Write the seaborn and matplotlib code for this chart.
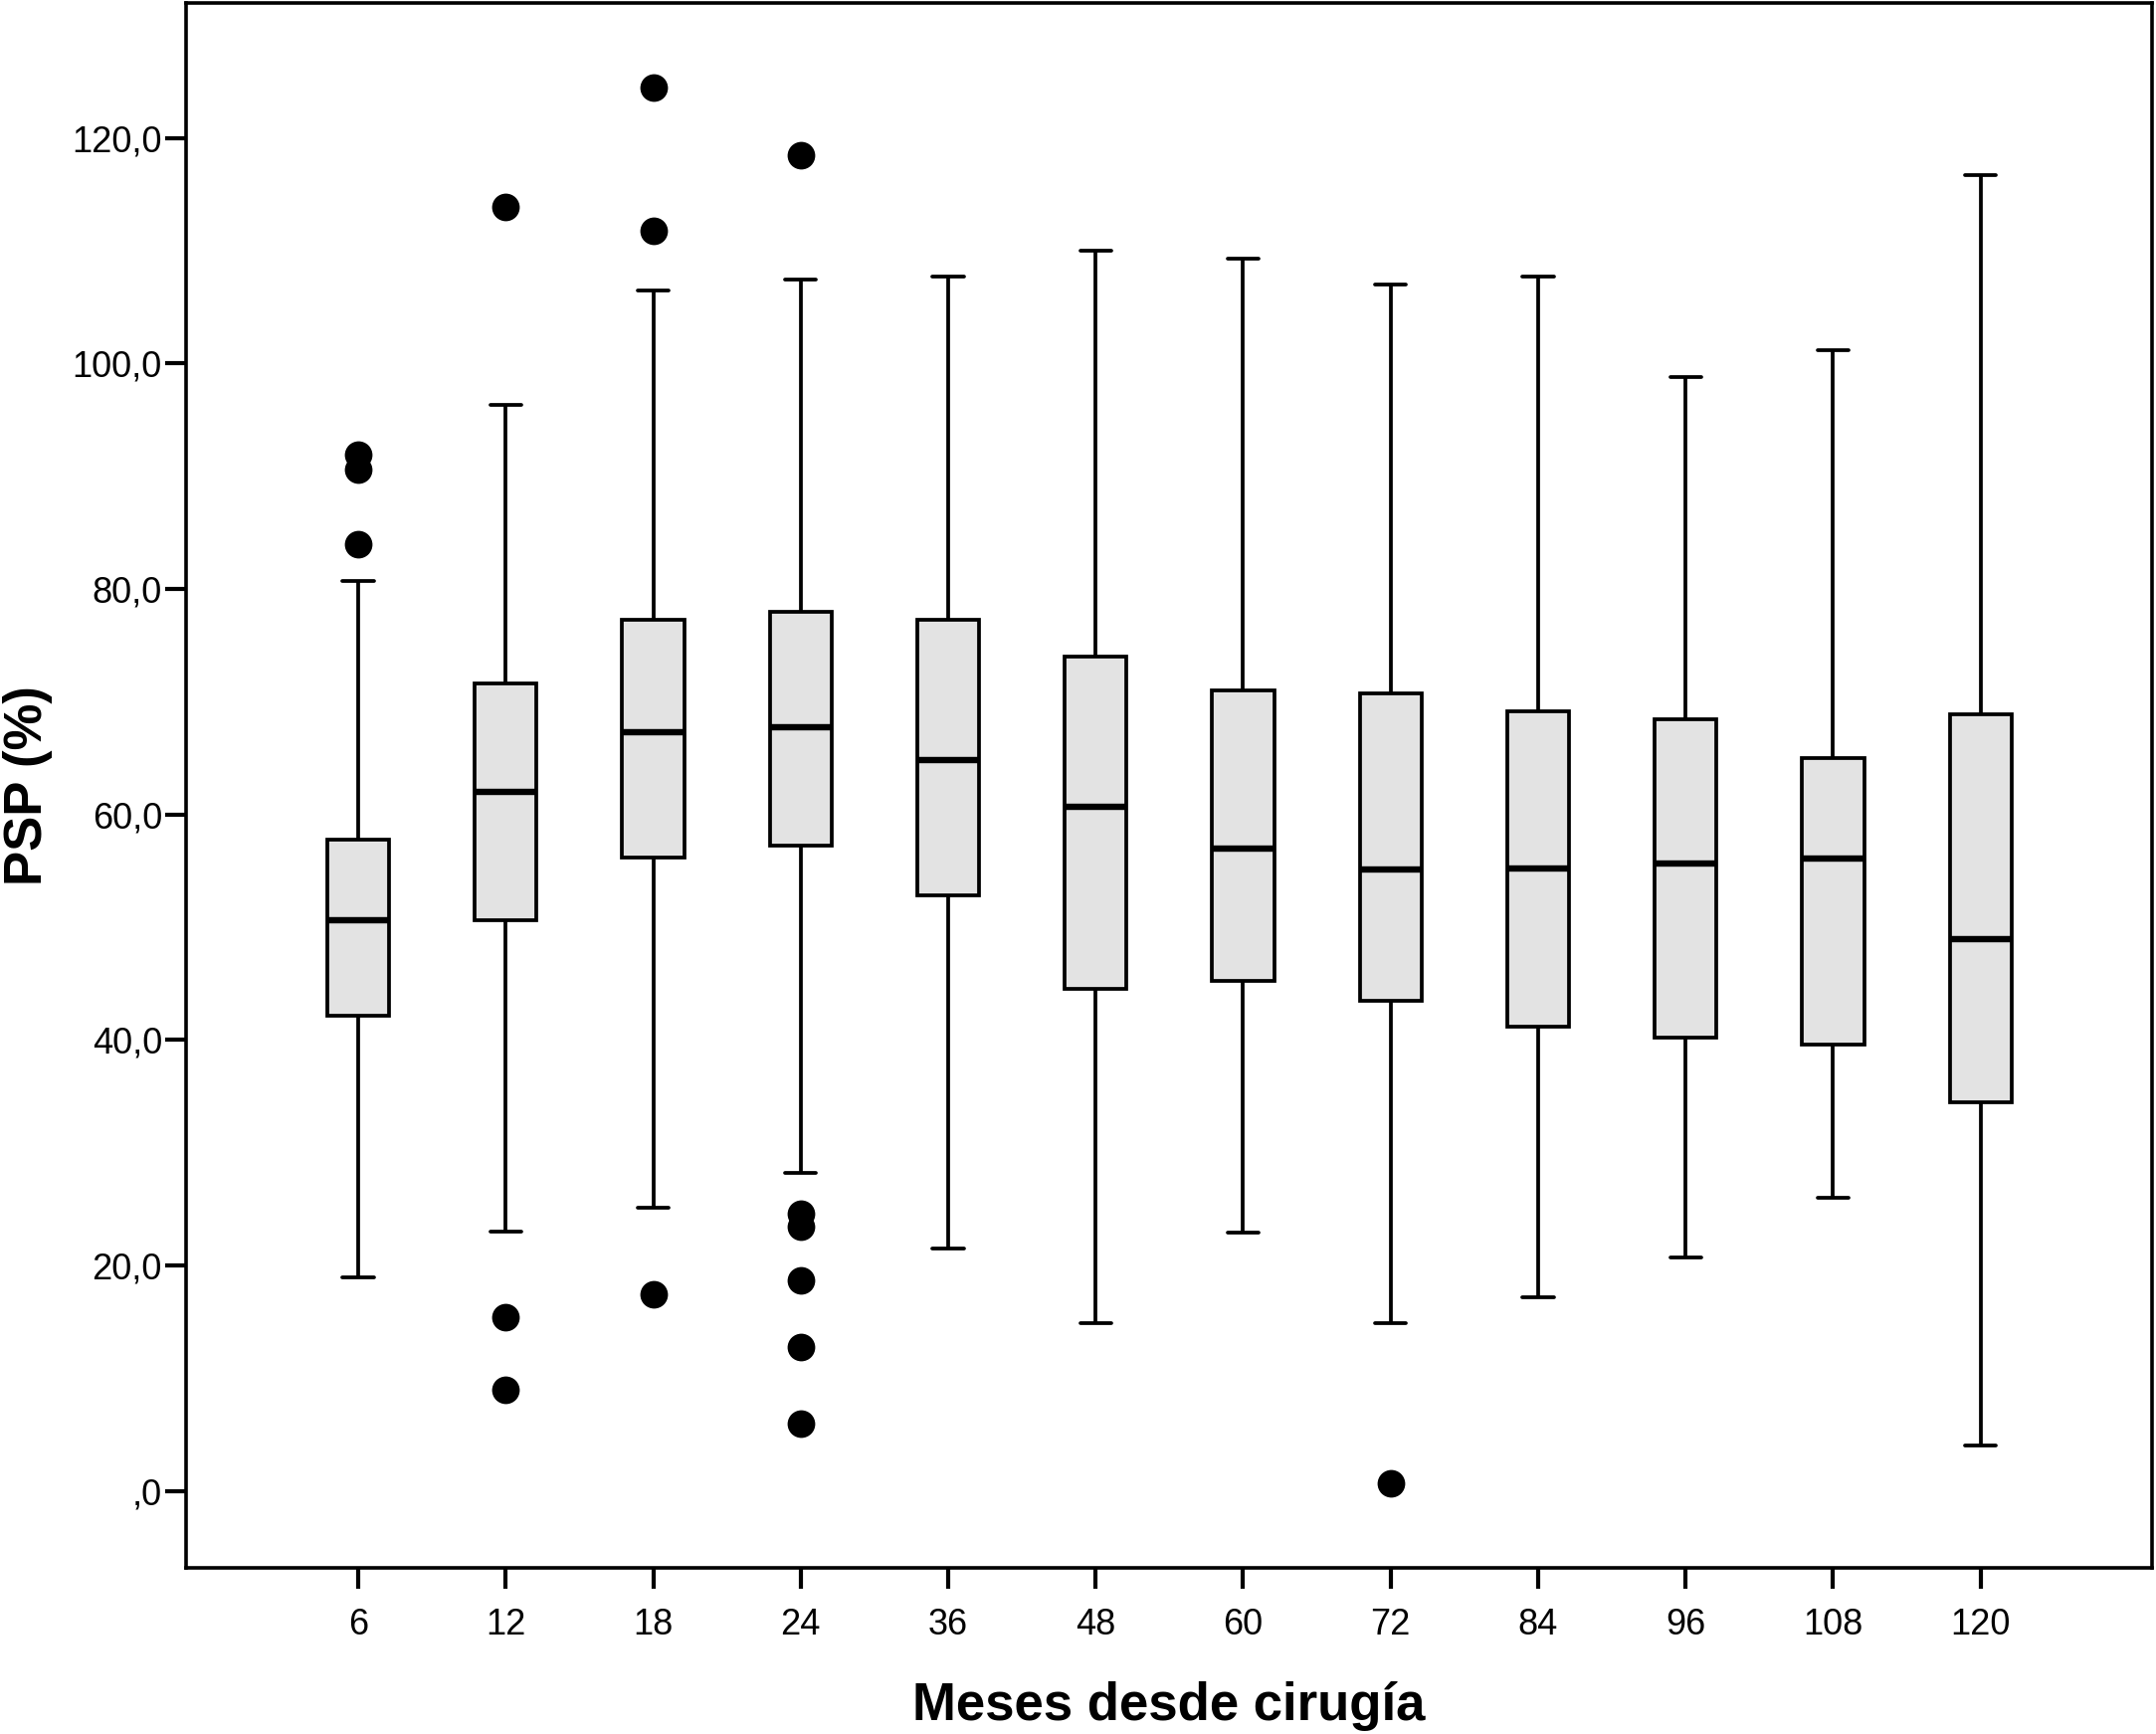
import numpy as np
import pandas as pd
import matplotlib
matplotlib.use("Agg")
import matplotlib.pyplot as plt
import seaborn as sns

# ---- data ----
months = ["6", "12", "18", "24", "36", "48", "60", "72", "84", "96", "108", "120"]
whisk_lo = [18.9, 23.0, 25.1, 28.2, 21.5, 14.9, 22.9, 14.9, 17.2, 20.7, 26.0, 4.0]
q1       = [42.1, 50.6, 56.2, 57.2, 52.8, 44.5, 45.2, 43.5, 41.2, 40.2, 39.6, 34.5]
median   = [50.6, 62.0, 67.3, 67.7, 64.8, 60.7, 57.0, 55.1, 55.2, 55.6, 56.1, 48.9]
q3       = [57.8, 71.6, 77.3, 78.0, 77.3, 74.0, 71.0, 70.7, 69.1, 68.4, 65.0, 68.9]
whisk_hi = [80.7, 96.3, 106.5, 107.4, 107.7, 110.0, 109.3, 107.0, 107.7, 98.8, 101.2, 116.7]

outlier_month = ["6", "6", "6", "12", "12", "12", "18", "18", "18",
                 "24", "24", "24", "24", "24", "24", "72"]
outlier_value = [91.9, 90.6, 84.0, 113.9, 15.4, 9.0, 124.5, 111.8, 17.4,
                 118.5, 24.6, 23.4, 18.7, 12.8, 6.0, 0.7]

yticks = [0, 20, 40, 60, 80, 100, 120]
ytick_labels = [",0", "20,0", "40,0", "60,0", "80,0", "100,0", "120,0"]

# five-number summaries per month -> seaborn draws the boxes (whiskers at min/max)
rows = []
for m, a, b, c, d, e in zip(months, whisk_lo, q1, median, q3, whisk_hi):
    for v in (a, b, c, d, e):
        rows.append({"mes": m, "psp": v})
summary = pd.DataFrame(rows)
outliers = pd.DataFrame({"mes": outlier_month, "psp": outlier_value})

sns.set_theme(style="white")
plt.rcParams["font.family"] = ["Liberation Sans", "DejaVu Sans"]
plt.rcParams["text.color"] = "black"
plt.rcParams["axes.labelcolor"] = "black"

fig = plt.figure(figsize=(21.67, 17.43), dpi=100)
ax = fig.add_axes([0.0861, 0.0960, 0.9119, 0.9025])

sns.boxplot(
    data=summary, x="mes", y="psp", order=months, ax=ax,
    whis=(0, 100), width=0.42, color="#e3e3e3", linecolor="black",
    linewidth=2.7, saturation=1, showfliers=False,
    medianprops={"linewidth": 4.6, "color": "black"},
)
sns.stripplot(
    data=outliers, x="mes", y="psp", order=months, ax=ax,
    jitter=False, size=20, color="black", linewidth=0, zorder=5,
)

ax.set_xlim(-1.17, 12.16)
ax.set_ylim(-6.8, 132.0)
ax.set_yticks(yticks)
ax.set_yticklabels(ytick_labels)

for s in ax.spines.values():
    s.set_visible(True)
    s.set_color("black")
    s.set_linewidth(2.6)

ax.tick_params(axis="both", which="major", direction="out", length=15, width=3.0,
               color="black", labelsize=26, labelcolor="black")
ax.tick_params(axis="y", pad=2)
ax.tick_params(axis="x", pad=14)
ax.tick_params(left=True, bottom=True)

ax.set_xlabel("Meses desde cirugía", fontsize=38, fontweight="bold", labelpad=28,
              color="black")
ax.set_ylabel("PSP (%)", fontsize=38, fontweight="bold", labelpad=14, color="black")
ax.grid(False)

fig.savefig("out.png", dpi=100, facecolor="white")
